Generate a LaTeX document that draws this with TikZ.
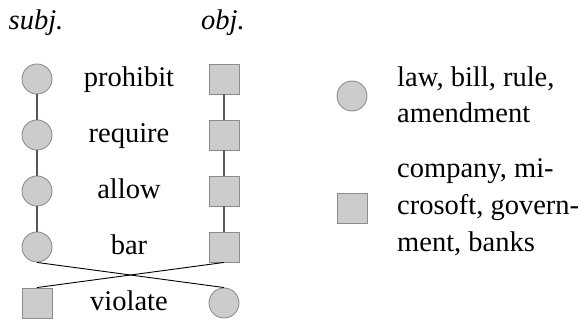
\documentclass[tikz,border=0pt]{standalone}
\usepackage{fontspec}
\setmainfont{Liberation Serif}
\definecolor{shapefill}{HTML}{CCCCCC}
\definecolor{shapeedge}{HTML}{8C8C8C}
\definecolor{linkgray}{HTML}{555555}
\begin{document}
\begin{tikzpicture}[x=1pt,y=-1pt,
  every node/.style={font=\fontsize{28.5}{36}\selectfont},
  circ/.style={circle,draw=shapeedge,fill=shapefill,line width=0.9pt,minimum size=30pt,inner sep=0pt},
  sq/.style={rectangle,draw=shapeedge,fill=shapefill,line width=0.9pt,minimum size=30pt,inner sep=0pt},
  verb/.style={anchor=base,inner sep=0pt},
  head/.style={anchor=base,inner sep=0pt,font=\fontsize{28.5}{36}\selectfont\itshape},
  legtxt/.style={anchor=base west,inner sep=0pt},
  link/.style={draw=linkgray,line width=1.3pt},
  cross/.style={draw=black,line width=0.9pt}]
\useasboundingbox (0,0) rectangle (582,320);

% column headers
\node[head] (hs) at (36,30) {subj.};
\node[head] (ho) at (223,30) {obj.};

% subject column
\node[circ] (s1) at (37,79) {};
\node[circ] (s2) at (37,135) {};
\node[circ] (s3) at (37,191) {};
\node[circ] (s4) at (37,247) {};
\node[sq]   (v1) at (37,303) {};

% object column
\node[sq]   (o1) at (224,79) {};
\node[sq]   (o2) at (224,135) {};
\node[sq]   (o3) at (224,191) {};
\node[sq]   (o4) at (224,247) {};
\node[circ] (v2) at (224,303) {};

% verbs
\node[verb] (l1) at (129,87) {prohibit};
\node[verb] (l2) at (129,143) {require};
\node[verb] (l3) at (129,199) {allow};
\node[verb] (l4) at (129,255) {bar};
\node[verb] (l5) at (129,311) {violate};

% chains
\begin{scope}[on background layer/.style={}]
\draw[link] (s1) -- (s2) (s2) -- (s3) (s3) -- (s4);
\draw[link] (o1) -- (o2) (o2) -- (o3) (o3) -- (o4);
\end{scope}
\draw[cross] (s4.south) -- (v2.north);
\draw[cross] (o4.south) -- (v1.north);

% legend
\node[circ] (kc) at (352,96) {};
\node[sq]   (ks) at (352,208) {};
\node[legtxt] (k1) at (397,87) {law, bill, rule,};
\node[legtxt] (k2) at (397,123) {amendment};
\node[legtxt] (k3) at (397,178) {company, mi-};
\node[legtxt] (k4) at (397,215) {crosoft, govern-};
\node[legtxt] (k5) at (397,252) {ment, banks};
\end{tikzpicture}
\end{document}
